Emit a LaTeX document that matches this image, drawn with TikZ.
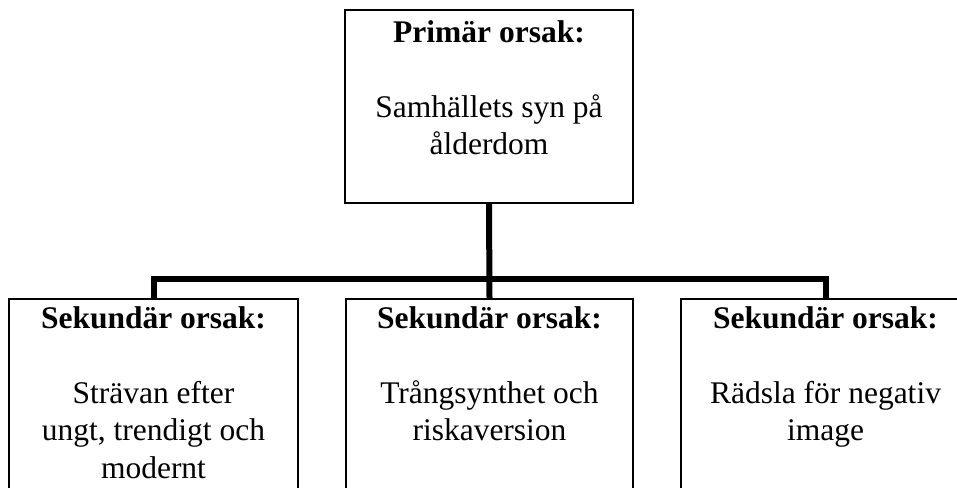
\documentclass[tikz,border=0pt]{standalone}
\usepackage{fontspec}
\setmainfont{Liberation Serif}
\begin{document}
\begin{tikzpicture}[x=1pt,y=-1pt,
  box/.style={draw, line width=1.6pt, rectangle, inner sep=0pt},
  boxtext/.style={anchor=north, inner sep=0pt, align=center, font=\fontsize{31.5}{37.5}\selectfont},
  bus/.style={line width=6pt, line join=miter}]
\useasboundingbox (0,0) rectangle (957,487);
\clip (0,0) rectangle (957,487);
% boxes
\node[box, minimum width=288pt, minimum height=193pt] (top) at (489,106.5) {};
\node[box, minimum width=289pt, minimum height=221pt] (left) at (153.5,409.5) {};
\node[box, minimum width=287pt, minimum height=221pt] (mid) at (489.5,409.5) {};
\node[box, minimum width=289pt, minimum height=221pt] (right) at (825.5,409.5) {};
% texts
\node[boxtext] (ttop) at (489,17) {\rule{0pt}{25pt}\textbf{Primär orsak:}\\[37.5pt]Samhällets syn på\\ålderdom};
\node[boxtext] (tleft) at (153.5,303) {\rule{0pt}{25pt}\textbf{Sekundär orsak:}\\[37.5pt]Strävan efter\\ungt, trendigt och\\modernt};
\node[boxtext] (tmid) at (489.5,303) {\rule{0pt}{25pt}\textbf{Sekundär orsak:}\\[37.5pt]Trångsynthet och\\riskaversion};
\node[boxtext] (tright) at (825.5,303) {\rule{0pt}{25pt}\textbf{Sekundär orsak:}\\[37.5pt]Rädsla för negativ\\image};
% connectors
\coordinate (j) at (489,279);
\draw[bus] (top.south) -- (mid.north);
\draw[bus] (left.north) -- (left.north |- j) -- (right.north |- j) -- (right.north);
\end{tikzpicture}
\end{document}
